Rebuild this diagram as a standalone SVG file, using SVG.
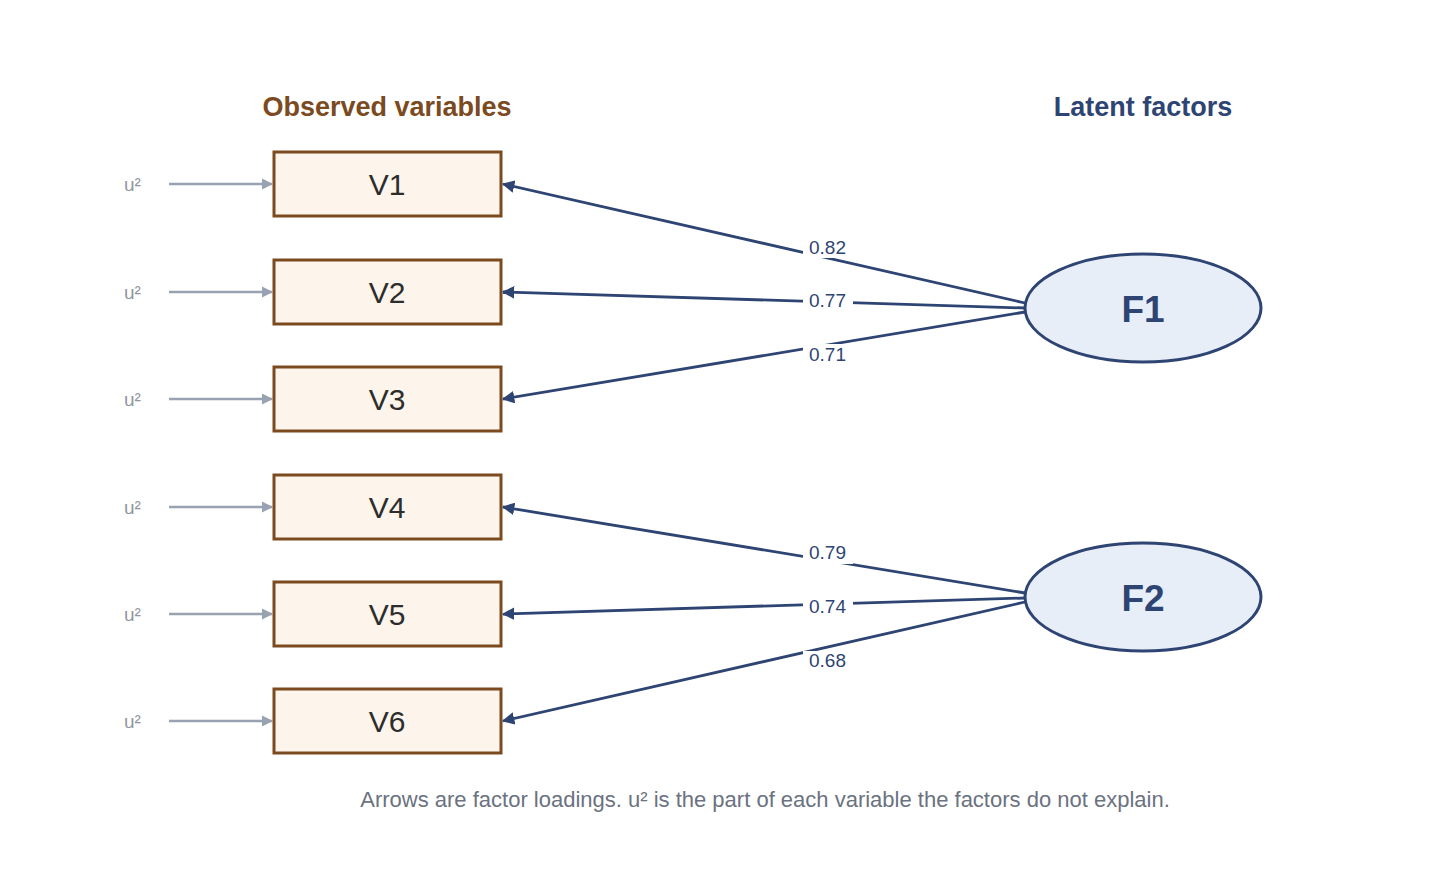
<svg xmlns="http://www.w3.org/2000/svg" width="1440" height="896" viewBox="0 0 1440 896">
<defs>
<style>
.box{fill:#fdf5eb;stroke:#7b4a1e;stroke-width:3}
.vt{font-family:"Liberation Sans",Arial,sans-serif;font-size:30px;fill:#2d2d2d;text-anchor:middle}
.ell{fill:#e8eef8;stroke:#2e4473;stroke-width:3}
.ft{font-family:"Liberation Sans",Arial,sans-serif;font-size:37px;font-weight:bold;fill:#2e4473;text-anchor:middle}
.load{stroke:#2e4473;stroke-width:2.8;fill:none;marker-end:url(#ah)}
.err{stroke:#98a2b0;stroke-width:2.5;fill:none;marker-end:url(#ag)}
.lab{font-family:"Liberation Sans",Arial,sans-serif;font-size:19px;fill:#2e4473}
.halo{fill:#fff}
.u{font-family:"Liberation Sans",Arial,sans-serif;font-size:19px;fill:#8f96a0}
.title{font-family:"Liberation Sans",Arial,sans-serif;font-size:27px;font-weight:bold;text-anchor:middle}
</style>
<marker id="ah" viewBox="0 0 10 10" refX="9" refY="5" markerWidth="4.5" markerHeight="4.5" orient="auto" markerUnits="strokeWidth"><path d="M0,0 L10,5 L0,10 z" fill="#2e4473"/></marker>
<marker id="ag" viewBox="0 0 10 10" refX="9" refY="5" markerWidth="4.5" markerHeight="4.5" orient="auto" markerUnits="strokeWidth"><path d="M0,0 L10,5 L0,10 z" fill="#98a2b0"/></marker>
</defs>
<rect width="1440" height="896" fill="#fff"/>
<text class="title" x="387" y="116" fill="#7b4a1e">Observed variables</text>
<text class="title" x="1143" y="116" fill="#2e4473">Latent factors</text>
<g id="connectors">
<path class="err" d="M169,184 L272,184"/>
<path class="err" d="M169,292 L272,292"/>
<path class="err" d="M169,399 L272,399"/>
<path class="err" d="M169,507 L272,507"/>
<path class="err" d="M169,614 L272,614"/>
<path class="err" d="M169,721 L272,721"/>
<path class="load" d="M1025,303 L503,184"/>
<path class="load" d="M1025,308 L503,292"/>
<path class="load" d="M1025,312 L503,399"/>
<path class="load" d="M1025,593 L503,507"/>
<path class="load" d="M1025,598 L503,614"/>
<path class="load" d="M1025,602 L503,721"/>
<rect class="halo" x="803" y="238" width="50" height="20"/>
<rect class="halo" x="803" y="291" width="50" height="19"/>
<rect class="halo" x="803" y="344" width="50" height="20"/>
<rect class="halo" x="803" y="543" width="50" height="21"/>
<rect class="halo" x="803" y="597" width="50" height="19"/>
<rect class="halo" x="803" y="651" width="50" height="20"/>
<text class="lab" x="809" y="254">0.82</text>
<text class="lab" x="809" y="307">0.77</text>
<text class="lab" x="809" y="361">0.71</text>
<text class="lab" x="809" y="559">0.79</text>
<text class="lab" x="809" y="613">0.74</text>
<text class="lab" x="809" y="667">0.68</text>
</g>
<g id="u1"><text class="u" x="124" y="191">u²</text></g>
<g id="u2"><text class="u" x="124" y="299">u²</text></g>
<g id="u3"><text class="u" x="124" y="406">u²</text></g>
<g id="u4"><text class="u" x="124" y="514">u²</text></g>
<g id="u5"><text class="u" x="124" y="621">u²</text></g>
<g id="u6"><text class="u" x="124" y="728">u²</text></g>
<g id="V1"><rect class="box" x="274" y="152" width="227" height="64"/><text class="vt" x="387" y="195">V1</text></g>
<g id="V2"><rect class="box" x="274" y="260" width="227" height="64"/><text class="vt" x="387" y="303">V2</text></g>
<g id="V3"><rect class="box" x="274" y="367" width="227" height="64"/><text class="vt" x="387" y="410">V3</text></g>
<g id="V4"><rect class="box" x="274" y="475" width="227" height="64"/><text class="vt" x="387" y="518">V4</text></g>
<g id="V5"><rect class="box" x="274" y="582" width="227" height="64"/><text class="vt" x="387" y="625">V5</text></g>
<g id="V6"><rect class="box" x="274" y="689" width="227" height="64"/><text class="vt" x="387" y="732">V6</text></g>
<g id="F1"><ellipse class="ell" cx="1143" cy="308" rx="118" ry="54"/><text class="ft" x="1143" y="322">F1</text></g>
<g id="F2"><ellipse class="ell" cx="1143" cy="597" rx="118" ry="54"/><text class="ft" x="1143" y="611">F2</text></g>
<text x="765" y="807" font-family="Liberation Sans,Arial,sans-serif" font-size="22" fill="#6b7280" text-anchor="middle">Arrows are factor loadings. u² is the part of each variable the factors do not explain.</text>
</svg>
